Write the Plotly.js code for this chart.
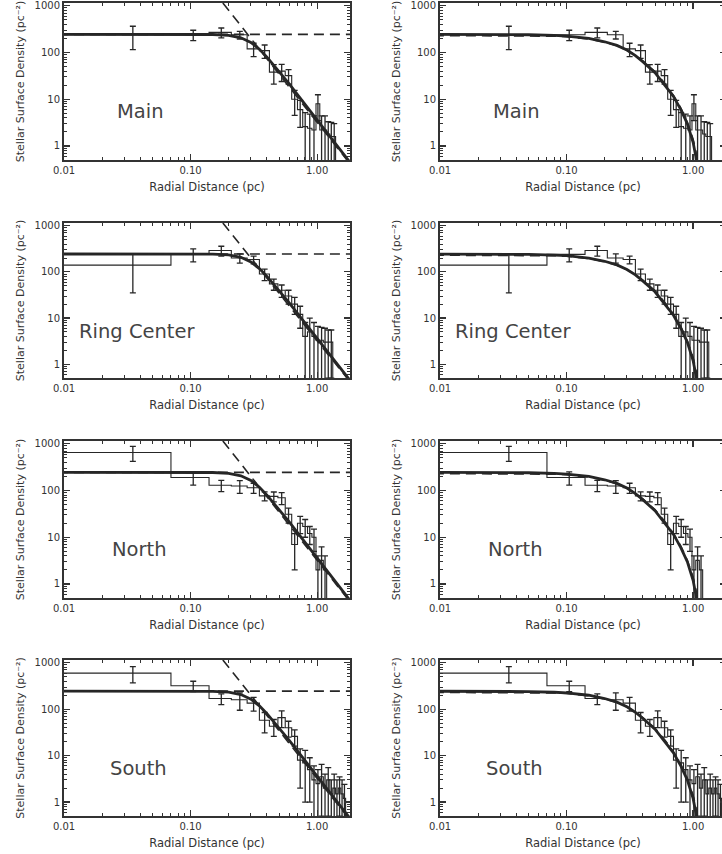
<!DOCTYPE html>
<html><head><meta charset="utf-8">
<script src="https://cdn.plot.ly/plotly-3.0.1.min.js"></script>
<style>html,body{margin:0;padding:0;overflow:hidden;background:#fff}#chart{width:760px;height:854px}</style>
</head><body><div id="chart"></div>
<script>
// ---------- data ----------
const regions = ["Main", "Ring Center", "North", "South"];
const binEdges = [0, 0.07, 0.14, 0.21, 0.28, 0.35, 0.42, 0.49, 0.56, 0.63, 0.70, 0.77, 0.84, 0.91, 0.98, 1.05, 1.12, 1.19, 1.26, 1.33, 1.40, 1.47, 1.54, 1.61, 1.68];
const binCenters = [0.035, 0.105, 0.175, 0.245, 0.315, 0.385, 0.455, 0.525, 0.595, 0.665, 0.735, 0.805, 0.875, 0.945, 1.015, 1.085, 1.155, 1.225, 1.295, 1.365, 1.435, 1.505, 1.575, 1.645];

const mainDensity = [240, 240, 270, 240, 120, 110, 38, 40, 32, 10, 6, 2.6, 2.4, 2.2, 8, 2.2, 2.2, 1.8, 1.6, 1.6];
const mainError   = [125, 60, 65, 45, 38, 35, 17, 16, 11, 5.5, 3.5, 2.6, 2.4, 2.2, 4.5, 2.2, 2.2, 1.5, 1.6, 1.4];

const ringDensity = [140, 240, 290, 200, 185, 90, 55, 40, 30, 20, 12, 4, 5, 4, 3.3, 3.3, 3, 3, 3];
const ringError   = [105, 75, 70, 45, 35, 25, 15, 12, 10, 8, 6, 4, 5, 4, 3.3, 3.0, 3, 2.5, 2.5];

const northDensity = [650, 190, 130, 125, 115, 77, 75, 70, 31, 7, 20, 17, 12, 10, 2, 3.2, 2];
const northError   = [230, 60, 35, 38, 28, 17, 18, 20, 11, 5, 8, 7, 5, 5, 2, 3, 2];

const southDensity = [600, 320, 170, 160, 135, 58, 43, 66, 40, 26, 8, 7, 5, 3, 2.5, 3.5, 2, 3, 1.5, 2, 1.5, 2, 1.5, 1.2];
const southError   = [230, 80, 45, 65, 44, 27, 17, 26, 15, 10, 6, 6, 4, 3, 2.5, 3, 2, 2.5, 1.5, 2, 1.5, 1.5, 1.5, 1.2];

// left column model: flat core + power law tail
const modelRadius    = [0.005, 0.05, 0.1, 0.15, 0.2, 0.25, 0.3, 0.35, 0.4, 0.5, 0.6, 0.7, 0.8, 1.0, 1.2, 1.4, 1.6, 1.8, 2.0];
const brokenPowerLaw = [245, 245, 245, 243, 233, 207, 164, 118, 81, 40, 21.5, 12.6, 7.9, 3.6, 1.9, 1.1, 0.7, 0.46, 0.32];
const coreRadius  = [0.005, 2.0];
const coreDensity = [245, 245];
const powerLawRadius  = [0.18, 2.0];
const powerLawDensity = [1150, 0.3];

// right column model: King-type profile (solid) and second fit (dashed)
const kingRadius  = [0.005, 0.03, 0.05, 0.08, 0.1, 0.15, 0.2, 0.25, 0.3, 0.35, 0.4, 0.5, 0.6, 0.7, 0.8, 0.9, 1.0, 1.05, 1.1];
const kingProfile = [245, 243, 240, 232, 225, 200, 170, 142, 113, 86, 64, 37, 20, 11.5, 6, 3.0, 1.2, 0.6, 0.2];
const kingDashed  = [232, 231, 229, 224, 218, 195, 166, 139, 112, 87, 66, 39, 21.5, 12, 6.5, 3.2, 1.4, 0.8, 0.35];

const xTickVals = [0.01, 0.1, 1];
const xTickText = ["0.01", "0.10", "1.00"];
const yTickVals = [1, 10, 100, 1000];
const yTickText = ["1", "10", "100", "1000"];
const xTitle = "Radial Distance (pc)";
const yTitle = "Stellar Surface Density (pc\u207B\u00B2)";

// ---------- layout ----------
const W = 760, H = 854;
const cols = [[64, 350], [440, 726]];
const rows = [[3, 160], [223, 378], [441, 598], [660, 816]];
const labelDx = [51, 13, 46, 44];
const labelDy = 108;
const ink = '#262626';
const font = 'DejaVu Sans, Verdana, sans-serif';

const datasets = [
  {dens: mainDensity, err: mainError},
  {dens: ringDensity, err: ringError},
  {dens: northDensity, err: northError},
  {dens: southDensity, err: southError}
];

const xMinor = [], yMinor = [];
for (let d = -3; d <= 0; d++) for (let m = 2; m <= 9; m++) xMinor.push(m * Math.pow(10, d));
for (let d = -1; d <= 3; d++) for (let m = 2; m <= 9; m++) yMinor.push(m * Math.pow(10, d));

const traces = [];
const layout = {
  width: W, height: H, margin: {l: 0, r: 0, t: 0, b: 0},
  showlegend: false, paper_bgcolor: '#fff', plot_bgcolor: '#fff',
  annotations: []
};

const axBase = {
  type: 'log', showline: true, linecolor: '#333', linewidth: 2, mirror: 'allticks',
  ticks: 'inside', ticklen: 6, tickwidth: 1.2, tickcolor: '#333',
  showgrid: false, zeroline: false, fixedrange: true, automargin: false,
  tickfont: {family: font, size: 10, color: '#333'}
};

for (let p = 0; p < 8; p++) {
  const row = Math.floor(p / 2), col = p % 2;
  const suf = p === 0 ? '' : String(p + 1);
  const xa = 'x' + suf, ya = 'y' + suf;
  const ds = datasets[row];
  const n = ds.dens.length;
  const [x0, x1] = cols[col];
  const [top, bot] = rows[row];

  // histogram steps
  traces.push({
    x: binEdges.slice(0, n + 1).map(e => Math.max(e, 1e-3)),
    y: ds.dens.concat([0.05]),
    xaxis: xa, yaxis: ya, mode: 'lines', hoverinfo: 'skip',
    line: {shape: 'hv', color: ink, width: 1.1}
  });
  // error bars
  traces.push({
    x: binCenters.slice(0, n), y: ds.dens,
    xaxis: xa, yaxis: ya, mode: 'markers', hoverinfo: 'skip',
    marker: {size: 1, color: 'rgba(0,0,0,0)'},
    error_y: {type: 'data', array: ds.err, visible: true, color: ink, thickness: 1.3, width: 3}
  });
  if (col === 0) {
    traces.push({x: modelRadius, y: brokenPowerLaw, xaxis: xa, yaxis: ya, mode: 'lines', hoverinfo: 'skip',
      line: {color: ink, width: 2.8}});
    traces.push({x: coreRadius, y: coreDensity, xaxis: xa, yaxis: ya, mode: 'lines', hoverinfo: 'skip',
      line: {color: ink, width: 1.6, dash: '10px,6px'}});
    traces.push({x: powerLawRadius, y: powerLawDensity, xaxis: xa, yaxis: ya, mode: 'lines', hoverinfo: 'skip',
      line: {color: ink, width: 1.6, dash: '10px,6px'}});
  } else {
    traces.push({x: kingRadius, y: kingProfile, xaxis: xa, yaxis: ya, mode: 'lines', hoverinfo: 'skip',
      line: {color: ink, width: 2.8}});
    traces.push({x: kingRadius, y: kingDashed, xaxis: xa, yaxis: ya, mode: 'lines', hoverinfo: 'skip',
      line: {color: ink, width: 1.6, dash: '10px,6px'}});
  }

  layout['xaxis' + suf] = Object.assign({}, axBase, {
    domain: [x0 / W, x1 / W], range: [-2, 0.26], anchor: ya,
    tickmode: 'array', tickvals: xTickVals, ticktext: xTickText,
    title: {text: xTitle, font: {family: font, size: 11.5, color: '#333'}, standoff: 8},
    minor: {tickmode: 'array', tickvals: xMinor, ticks: 'inside', ticklen: 3, tickcolor: '#333', tickwidth: 1}
  });
  layout['yaxis' + suf] = Object.assign({}, axBase, {
    domain: [1 - bot / H, 1 - top / H], range: [-0.3, 3.06], anchor: xa,
    tickmode: 'array', tickvals: yTickVals, ticktext: yTickText,
    title: {text: yTitle, font: {family: font, size: 11, color: '#333'}, standoff: 8},
    minor: {tickmode: 'array', tickvals: yMinor, ticks: 'inside', ticklen: 3, tickcolor: '#333', tickwidth: 1}
  });

  layout.annotations.push({
    xref: 'paper', yref: 'paper', x: (x0 + labelDx[row]) / W, y: 1 - (top + labelDy) / H,
    text: regions[row], showarrow: false, xanchor: 'left', yanchor: 'middle',
    font: {family: font, size: 19.5, color: '#444'}
  });
}

Plotly.newPlot('chart', traces, layout, {staticPlot: true, displayModeBar: false});
</script>
</body></html>
